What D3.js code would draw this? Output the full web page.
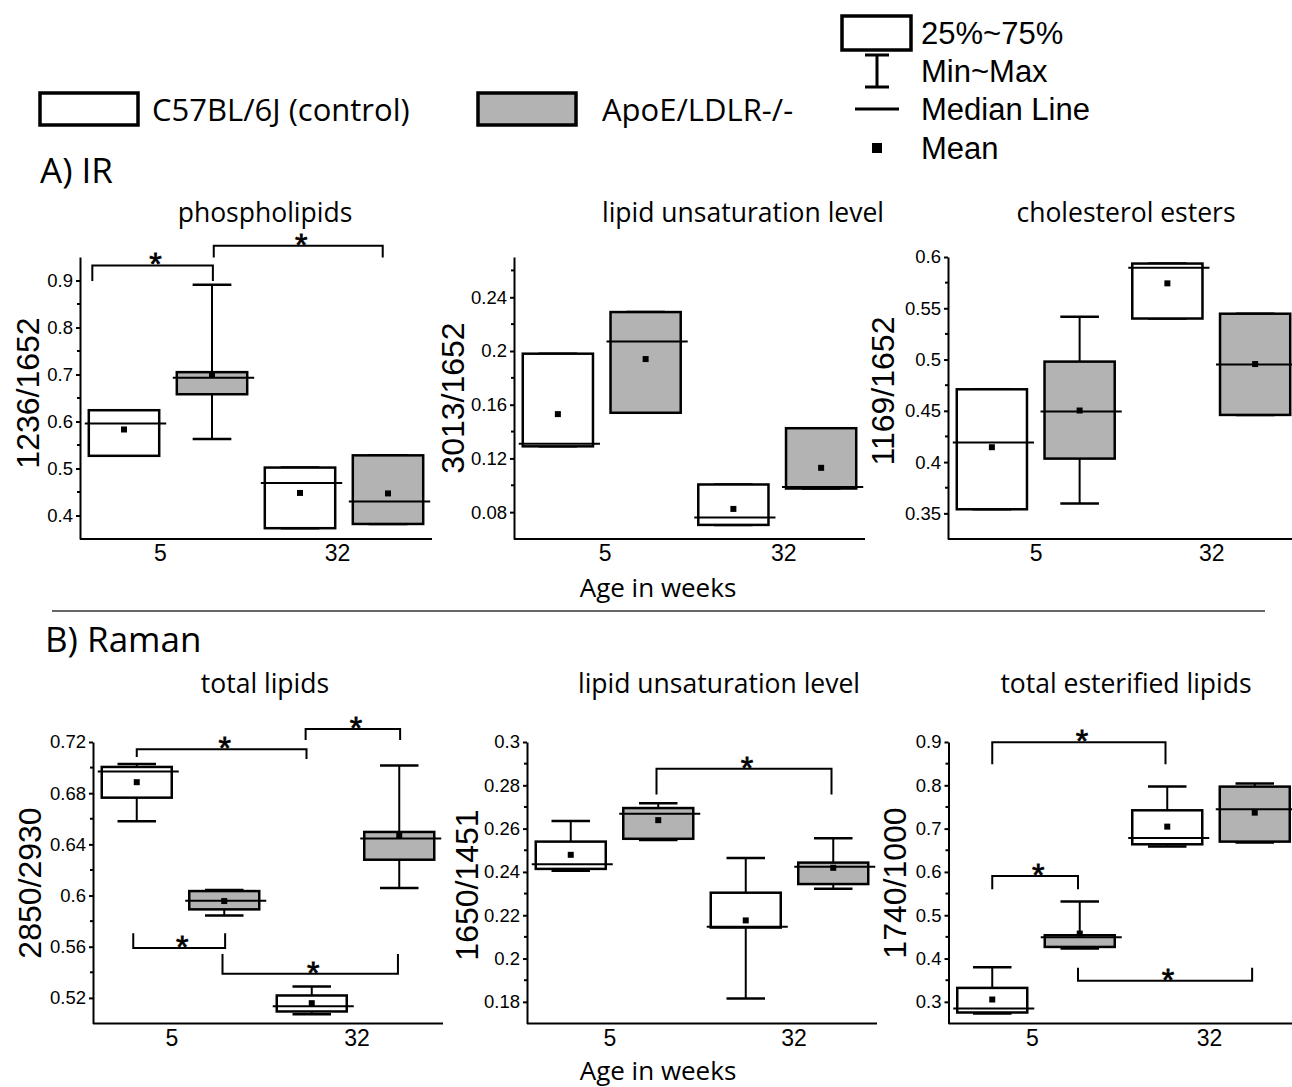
<!DOCTYPE html>
<html>
<head>
<meta charset="utf-8">
<script src="https://cdn.jsdelivr.net/npm/d3@7"></script>
<style>
  body { margin: 0; background: #fff; }
  svg { display: block; }
  .axis text { font-family: "Liberation Sans", Arial, sans-serif; fill: #000; }
  .axis path, .axis line { stroke: #000; stroke-width: 2; }
  .title { font-family: "Open Sans", sans-serif; font-size: 26.5px; fill: #000; }
  .xtitle { font-family: "Open Sans", sans-serif; font-size: 26px; fill: #000; }
  .ytitle { font-family: "Liberation Sans", Arial, sans-serif; font-size: 32px; fill: #000; }
  .section { font-family: "Open Sans", sans-serif; font-size: 35px; fill: #000; }
  .legend-a { font-family: "Open Sans", sans-serif; font-size: 31px; fill: #000; }
  .legend-b { font-family: "Liberation Sans", Arial, sans-serif; font-size: 31px; fill: #000; }
  .star { font-family: "Liberation Sans", Arial, sans-serif; font-size: 32px; fill: #000; stroke: #000; stroke-width: 0.8; }
</style>
</head>
<body>
<script>
const groups = ["5", "32"];
const strains = ["C57BL/6J (control)", "ApoE/LDLR-/-"];
const fills = ["#ffffff", "#b3b3b3"];

// box stats: [min, q1, median, q3, max, mean], order: 5 ctrl, 5 ApoE, 32 ctrl, 32 ApoE
const irPhospholipids = [
  [0.527, 0.527, 0.596, 0.624, 0.624, 0.583],
  [0.563, 0.658, 0.693, 0.705, 0.891, 0.699],
  [0.373, 0.373, 0.469, 0.502, 0.502, 0.448],
  [0.382, 0.382, 0.430, 0.528, 0.528, 0.447],
];
const irUnsaturation = [
  [0.129, 0.129, 0.131, 0.198, 0.198, 0.153],
  [0.154, 0.154, 0.207, 0.229, 0.229, 0.194],
  [0.0705, 0.0705, 0.076, 0.1006, 0.1006, 0.0824],
  [0.0976, 0.0976, 0.0987, 0.1425, 0.1425, 0.113],
];
const irCholEsters = [
  [0.354, 0.354, 0.419, 0.471, 0.471, 0.4145],
  [0.3595, 0.4034, 0.4493, 0.498, 0.5418, 0.4503],
  [0.540, 0.540, 0.5896, 0.5936, 0.5936, 0.5743],
  [0.446, 0.446, 0.4952, 0.5447, 0.5447, 0.4956],
];
const ramanTotalLipids = [
  [0.658, 0.6765, 0.6969, 0.7005, 0.7029, 0.6886],
  [0.5845, 0.5892, 0.5959, 0.6035, 0.6043, 0.5957],
  [0.5073, 0.5094, 0.5135, 0.5219, 0.529, 0.5159],
  [0.6059, 0.628, 0.6445, 0.6497, 0.7016, 0.6468],
];
const ramanUnsaturation = [
  [0.2405, 0.2414, 0.2436, 0.254, 0.2635, 0.2479],
  [0.2548, 0.2553, 0.2669, 0.2695, 0.2717, 0.2639],
  [0.1815, 0.2143, 0.2147, 0.2304, 0.2464, 0.2176],
  [0.2322, 0.2344, 0.2424, 0.2443, 0.2556, 0.2419],
];
const ramanEsterified = [
  [0.2731, 0.2754, 0.2846, 0.3322, 0.38, 0.3054],
  [0.4231, 0.4268, 0.4492, 0.4538, 0.5315, 0.4577],
  [0.6585, 0.6638, 0.6784, 0.7423, 0.797, 0.7046],
  [0.6677, 0.67, 0.7446, 0.797, 0.8039, 0.7369],
];

// significance brackets: [from box, to box, line value, end value left, end value right]
const irPhospholipidsSig = [
  [-0.36, 1.01, 0.932, 0.899, 0.899],
  [1.02, 2.94, 0.974, 0.949, 0.949],
];
const ramanTotalLipidsSig = [
  [0.0, 1.94, 0.7143, 0.7083, 0.7067],
  [1.93, 3.01, 0.7302, 0.7216, 0.7216],
  [-0.04, 1.01, 0.559, 0.5705, 0.5705],
  [0.98, 2.985, 0.5389, 0.5543, 0.5543],
];
const ramanUnsaturationSig = [
  [0.98, 2.98, 0.2877, 0.2758, 0.2758],
];
const ramanEsterifiedSig = [
  [0.0, 1.98, 0.8993, 0.8485, 0.8485],
  [0.0, 0.98, 0.5906, 0.5599, 0.5599],
  [0.98, 2.97, 0.3488, 0.3788, 0.3788],
];

// tick values
const irPhospholipidsTicks = [0.4, 0.5, 0.6, 0.7, 0.8, 0.9];
const irUnsaturationTicks = [0.08, 0.12, 0.16, 0.2, 0.24];
const irCholEstersTicks = [0.35, 0.4, 0.45, 0.5, 0.55, 0.6];
const ramanTotalLipidsTicks = [0.52, 0.56, 0.6, 0.64, 0.68, 0.72];
const ramanUnsaturationTicks = [0.18, 0.2, 0.22, 0.24, 0.26, 0.28, 0.3];
const ramanEsterifiedTicks = [0.3, 0.4, 0.5, 0.6, 0.7, 0.8, 0.9];

const panels = [
  { title: "phospholipids", ytitle: "1236/1652", stats: irPhospholipids, sig: irPhospholipidsSig,
    ticks: irPhospholipidsTicks, domain: [0.35, 0.95], labelShift: [-8, -7],
    left: 80, width: 352, top: 257, bottom: 539, titleX: 265, titleY: 222, ytX: 39, ytY: 393 },
  { title: "lipid unsaturation level", ytitle: "3013/1652", stats: irUnsaturation, sig: [],
    ticks: irUnsaturationTicks, domain: [0.06, 0.27], labelShift: [3, 6],
    left: 514, width: 351, top: 257, bottom: 539, titleX: 743, titleY: 222, ytX: 464, ytY: 398 },
  { title: "cholesterol esters", ytitle: "1169/1652", stats: irCholEsters, sig: [],
    ticks: irCholEstersTicks, domain: [0.325, 0.6], labelShift: [0, 0],
    left: 948, width: 351, top: 257, bottom: 539, titleX: 1126, titleY: 222, ytX: 894, ytY: 391 },
  { title: "total lipids", ytitle: "2850/2930", stats: ramanTotalLipids, sig: ramanTotalLipidsSig,
    ticks: ramanTotalLipidsTicks, domain: [0.5, 0.72], labelShift: [-9, 1],
    left: 93, width: 350, top: 742, bottom: 1023.5, titleX: 265, titleY: 693, ytX: 41, ytY: 883 },
  { title: "lipid unsaturation level", ytitle: "1650/1451", stats: ramanUnsaturation, sig: ramanUnsaturationSig,
    ticks: ramanUnsaturationTicks, domain: [0.17, 0.3], labelShift: [-5, 4],
    left: 527, width: 350, top: 742, bottom: 1023.5, titleX: 719, titleY: 693, ytX: 478, ytY: 885 },
  { title: "total esterified lipids", ytitle: "1740/1000", stats: ramanEsterified, sig: ramanEsterifiedSig,
    ticks: ramanEsterifiedTicks, domain: [0.25, 0.9], labelShift: [-4, -2],
    left: 948.5, width: 350, top: 742, bottom: 1023.5, titleX: 1126, titleY: 693, ytX: 906, ytY: 883 },
];

const svg = d3.select("body").append("svg")
  .attr("width", 1292)
  .attr("height", 1087);

svg.append("rect").attr("width", 1292).attr("height", 1087).attr("fill", "#fff");

function drawPanel(p) {
  const x = d3.scaleLinear().domain([-0.5, 3.5]).range([p.left, p.left + p.width]);
  const y = d3.scaleLinear().domain(p.domain).range([p.bottom, p.top]);
  const bw = x(0.4) - x(0);   // half box width
  const cw = x(0.22) - x(0);  // half cap width
  const g = svg.append("g");

  // y axis
  g.append("g")
    .attr("class", "axis")
    .attr("transform", `translate(${p.left},0)`)
    .call(d3.axisLeft(y).tickValues(p.ticks).tickSize(4).tickSizeOuter(0).tickPadding(3)
      .tickFormat(d3.format("~g")))
    .call((a) => a.selectAll("text").attr("font-size", 18.5));

  // minor ticks halfway between the major ones
  const step = p.ticks[1] - p.ticks[0];
  const minor = d3.range(p.ticks[0] - step / 2, p.domain[1] + 1e-9, step)
    .filter((v) => v > p.domain[0] + 1e-9 && v < p.domain[1] - 1e-9);
  g.selectAll(".minor")
    .data(minor)
    .join("line")
    .attr("x1", p.left - 3).attr("x2", p.left)
    .attr("y1", (d) => y(d)).attr("y2", (d) => y(d))
    .attr("stroke", "#000").attr("stroke-width", 2);

  // x axis
  g.append("g")
    .attr("class", "axis")
    .attr("transform", `translate(0,${p.bottom})`)
    .call(d3.axisBottom(x).tickValues([0.5, 2.5]).tickSize(0).tickSizeOuter(0).tickPadding(6)
      .tickFormat((d, i) => groups[i]))
    .call((a) => a.selectAll("text").attr("font-size", 23).attr("dx", (d, i) => p.labelShift[i]))
    .call((a) => a.select(".domain").attr("d", `M${p.left},0H${p.left + p.width}`));

  // boxes
  const box = g.selectAll(".box")
    .data(p.stats)
    .join("g")
    .attr("class", "box");
  box.append("line")
    .attr("x1", (d, i) => x(i)).attr("x2", (d, i) => x(i))
    .attr("y1", (d) => y(d[4])).attr("y2", (d) => y(d[3]))
    .attr("stroke", "#000").attr("stroke-width", 2);
  box.append("line")
    .attr("x1", (d, i) => x(i)).attr("x2", (d, i) => x(i))
    .attr("y1", (d) => y(d[1])).attr("y2", (d) => y(d[0]))
    .attr("stroke", "#000").attr("stroke-width", 2);
  [0, 4].forEach((k) => {
    box.append("line")
      .attr("x1", (d, i) => x(i) - cw).attr("x2", (d, i) => x(i) + cw)
      .attr("y1", (d) => y(d[k])).attr("y2", (d) => y(d[k]))
      .attr("stroke", "#000").attr("stroke-width", 2.5);
  });
  box.append("rect")
    .attr("x", (d, i) => x(i) - bw)
    .attr("width", 2 * bw)
    .attr("y", (d) => y(d[3]))
    .attr("height", (d) => y(d[1]) - y(d[3]))
    .attr("fill", (d, i) => fills[i % 2])
    .attr("stroke", "#000").attr("stroke-width", 2.5);
  box.append("line")
    .attr("x1", (d, i) => x(i) - bw - 4).attr("x2", (d, i) => x(i) + bw + 7)
    .attr("y1", (d) => y(d[2])).attr("y2", (d) => y(d[2]))
    .attr("stroke", "#000").attr("stroke-width", 2);
  box.append("rect")
    .attr("x", (d, i) => x(i) - 3).attr("y", (d) => y(d[5]) - 3)
    .attr("width", 6).attr("height", 6)
    .attr("fill", "#000");

  // significance brackets
  const sig = g.selectAll(".sig")
    .data(p.sig)
    .join("g")
    .attr("class", "sig");
  sig.append("path")
    .attr("fill", "none").attr("stroke", "#000").attr("stroke-width", 2)
    .attr("d", (d) => `M${x(d[0])},${y(d[3])}V${y(d[2])}H${x(d[1])}V${y(d[4])}`);
  sig.append("text")
    .attr("class", "star")
    .attr("text-anchor", "middle")
    .attr("x", (d) => (x(d[0]) + x(d[1])) / 2 + 3)
    .attr("y", (d) => y(d[2]) + 10)
    .text("*");

  // titles
  svg.append("text").attr("class", "title")
    .attr("x", p.titleX).attr("y", p.titleY)
    .attr("text-anchor", "middle").text(p.title);
  svg.append("text").attr("class", "ytitle")
    .attr("transform", `translate(${p.ytX},${p.ytY}) rotate(-90)`)
    .attr("text-anchor", "middle").text(p.ytitle);
}

panels.forEach(drawPanel);

// section labels and x titles
svg.append("text").attr("class", "section").attr("x", 40).attr("y", 183).text("A) IR");
svg.append("text").attr("class", "section").attr("x", 45).attr("y", 652).text("B) Raman");
svg.append("line")
  .attr("x1", 52).attr("x2", 1265).attr("y1", 611).attr("y2", 611)
  .attr("stroke", "#333").attr("stroke-width", 1.5);
[597, 1080].forEach((yy) => {
  svg.append("text").attr("class", "xtitle")
    .attr("x", 658).attr("y", yy).attr("text-anchor", "middle")
    .text("Age in weeks");
});

// strain legend
const leg = svg.append("g");
strains.forEach((s, i) => {
  const lx = [40, 478][i];
  leg.append("rect")
    .attr("x", lx).attr("y", 93).attr("width", 98).attr("height", 32)
    .attr("fill", fills[i]).attr("stroke", "#000").attr("stroke-width", 3.5);
  leg.append("text").attr("class", "legend-a")
    .attr("x", lx + [112, 124][i]).attr("y", 121).text(s);
});

// box-plot key
const key = svg.append("g");
key.append("rect")
  .attr("x", 842).attr("y", 16).attr("width", 69).attr("height", 34)
  .attr("fill", "#fff").attr("stroke", "#000").attr("stroke-width", 3.5);
key.append("path")
  .attr("d", "M865,55H889M877,55V87M865,87H889")
  .attr("fill", "none").attr("stroke", "#000").attr("stroke-width", 3);
key.append("line")
  .attr("x1", 855).attr("x2", 899).attr("y1", 109).attr("y2", 109)
  .attr("stroke", "#000").attr("stroke-width", 3);
key.append("rect")
  .attr("x", 872).attr("y", 143).attr("width", 10).attr("height", 10).attr("fill", "#000");
["25%~75%", "Min~Max", "Median Line", "Mean"].forEach((t, i) => {
  key.append("text").attr("class", "legend-b")
    .attr("x", 921).attr("y", [44, 82, 120, 159][i]).text(t);
});
</script>
</body>
</html>
